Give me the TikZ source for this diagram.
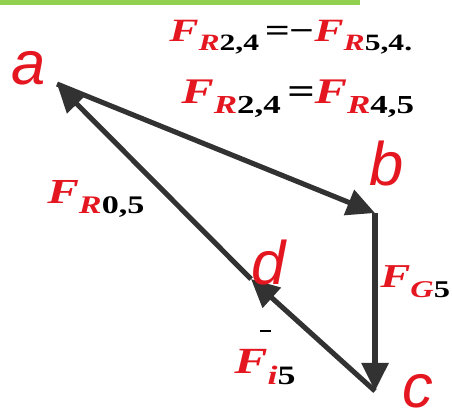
\documentclass[tikz,border=0pt]{standalone}
\usepackage{fontspec}
\setmainfont{Liberation Serif}
\newfontfamily\ptfont{Liberation Sans}
\newfontfamily\forcefont[FakeStretch=1.35]{Liberation Serif}
\usetikzlibrary{arrows.meta}
\definecolor{vecRed}{RGB}{228,22,32}
\definecolor{vecGray}{RGB}{50,50,50}
\definecolor{barGreen}{RGB}{146,208,80}
\newcommand{\subsz}{14}
% F with red letter subscript and black number subscript
\newcommand{\vecF}[2]{\textcolor{vecRed}{F}\raisebox{-0.3em}{\fontsize{\subsz}{\subsz}\selectfont\textcolor{vecRed}{#1}\upshape#2}}
\newcommand{\barF}{\makebox[0pt][l]{\hspace{0.7em}\raisebox{1.1em}{\rule{0.3em}{1.1pt}}}}
\begin{document}
\begin{tikzpicture}[x=0.02cm,y=-0.02cm]
\tikzset{
    vecArrow/.style={draw=vecGray,line width=2.9pt,-{Triangle[length=16pt,width=15pt]}},
    vecLabel/.style={inner sep=0pt,anchor=base west,
        font=\forcefont\bfseries\itshape\fontsize{#1}{#1}\selectfont\pgfmathsetmacro\subsz{#1*0.72}},
    vecLabel/.default=20,
    ptLabel/.style={inner sep=0pt,anchor=base west,text=vecRed,font=\ptfont\itshape\fontsize{35}{35}\selectfont},
}
\useasboundingbox (0,0) rectangle (452,417);
\fill[barGreen] (0,0) rectangle (360,5);

\coordinate (a) at (57,84);
\coordinate (b) at (375,213);
\coordinate (c) at (375,391);
\coordinate (d) at (251,279);

\draw[vecArrow] (a) -- (b);
\draw[vecArrow] (b) -- (c);
\draw[vecArrow] (c) -- (d);
\draw[vecArrow] (d) -- (a);

\node[ptLabel] (lblA) at (11,84) {a};
\node[ptLabel] (lblB) at (369,185) {b};
\node[ptLabel] (lblC) at (402,407) {c};
\node[ptLabel] (lblD) at (251,284) {d};

\node[vecLabel=18.5] (eqTop) at (169,41) {\vecF{R}{2,4}\,=\kern-1pt−\vecF{R}{5,4.}};
\node[vecLabel=20.5] (eqBot) at (181,103) {\vecF{R}{2,4}\,=\vecF{R}{4,5}};
\node[vecLabel] (fR05) at (47,203) {\vecF{R}{0,5}};
\node[vecLabel=19] (fG5) at (380,287) {\vecF{G}{5}};
\node[vecLabel=21] (fI5) at (234,373) {\barF\vecF{i}{5}};
\end{tikzpicture}
\end{document}
